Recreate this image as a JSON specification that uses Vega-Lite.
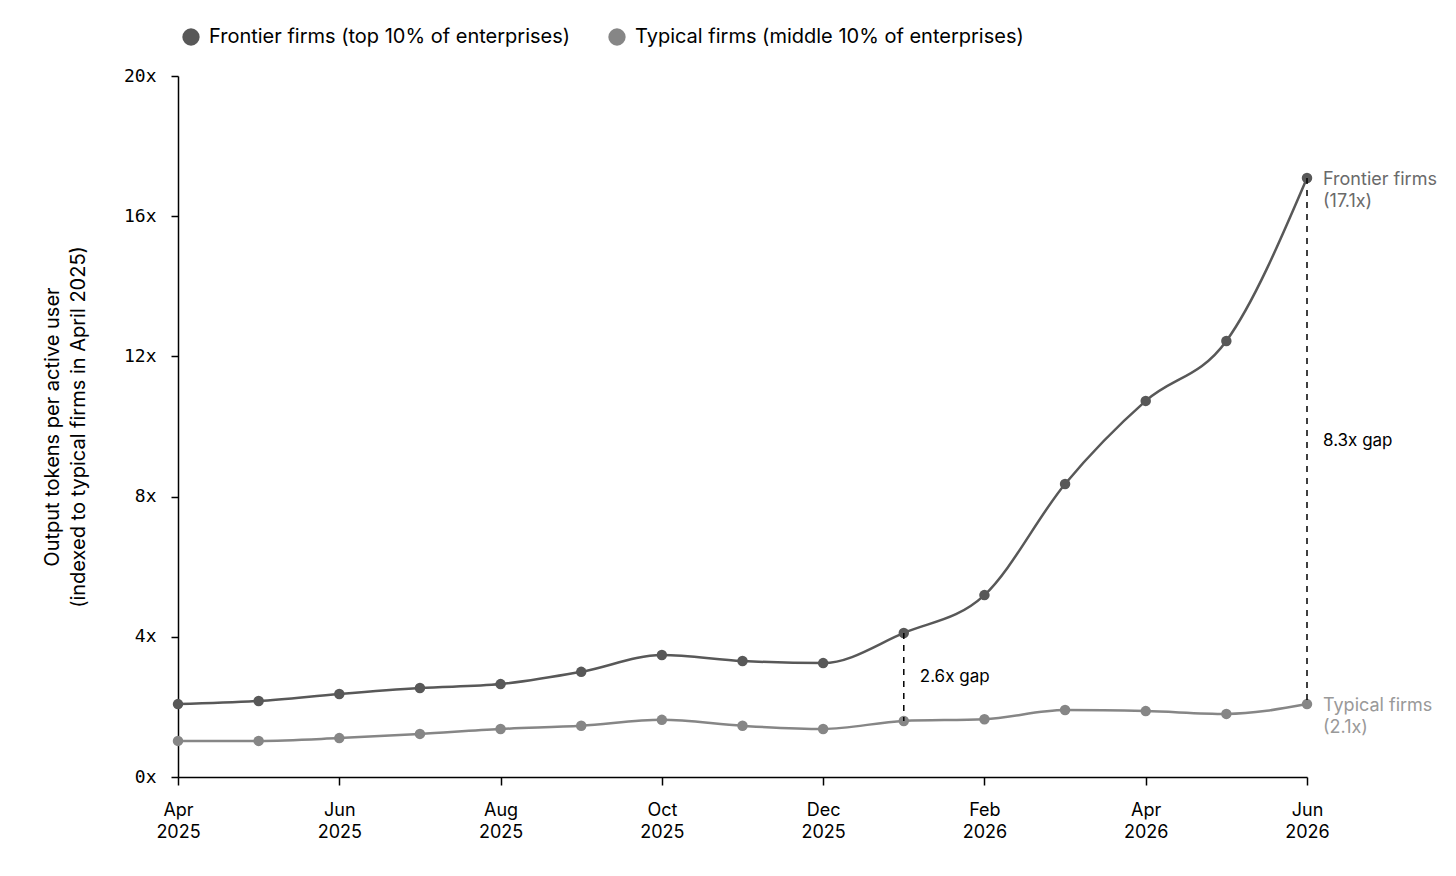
{
  "$schema": "https://vega.github.io/schema/vega-lite/v6.json",
  "background": "white",
  "width": 1129,
  "height": 701,
  "padding": {"left": 42, "top": 27, "right": 10, "bottom": 10},
  "datasets": {
    "series": [
      {"month": "Apr 2025", "series": "Frontier firms (top 10% of enterprises)", "value": 2.08},
      {"month": "May 2025", "series": "Frontier firms (top 10% of enterprises)", "value": 2.17},
      {"month": "Jun 2025", "series": "Frontier firms (top 10% of enterprises)", "value": 2.37},
      {"month": "Jul 2025", "series": "Frontier firms (top 10% of enterprises)", "value": 2.54},
      {"month": "Aug 2025", "series": "Frontier firms (top 10% of enterprises)", "value": 2.65},
      {"month": "Sep 2025", "series": "Frontier firms (top 10% of enterprises)", "value": 3.0},
      {"month": "Oct 2025", "series": "Frontier firms (top 10% of enterprises)", "value": 3.48},
      {"month": "Nov 2025", "series": "Frontier firms (top 10% of enterprises)", "value": 3.31},
      {"month": "Dec 2025", "series": "Frontier firms (top 10% of enterprises)", "value": 3.25},
      {"month": "Jan 2026", "series": "Frontier firms (top 10% of enterprises)", "value": 4.11},
      {"month": "Feb 2026", "series": "Frontier firms (top 10% of enterprises)", "value": 5.19},
      {"month": "Mar 2026", "series": "Frontier firms (top 10% of enterprises)", "value": 8.36},
      {"month": "Apr 2026", "series": "Frontier firms (top 10% of enterprises)", "value": 10.73},
      {"month": "May 2026", "series": "Frontier firms (top 10% of enterprises)", "value": 12.44},
      {"month": "Jun 2026", "series": "Frontier firms (top 10% of enterprises)", "value": 17.09},
      {"month": "Apr 2025", "series": "Typical firms (middle 10% of enterprises)", "value": 1.03},
      {"month": "May 2025", "series": "Typical firms (middle 10% of enterprises)", "value": 1.03},
      {"month": "Jun 2025", "series": "Typical firms (middle 10% of enterprises)", "value": 1.11},
      {"month": "Jul 2025", "series": "Typical firms (middle 10% of enterprises)", "value": 1.23},
      {"month": "Aug 2025", "series": "Typical firms (middle 10% of enterprises)", "value": 1.37},
      {"month": "Sep 2025", "series": "Typical firms (middle 10% of enterprises)", "value": 1.46},
      {"month": "Oct 2025", "series": "Typical firms (middle 10% of enterprises)", "value": 1.63},
      {"month": "Nov 2025", "series": "Typical firms (middle 10% of enterprises)", "value": 1.46},
      {"month": "Dec 2025", "series": "Typical firms (middle 10% of enterprises)", "value": 1.37},
      {"month": "Jan 2026", "series": "Typical firms (middle 10% of enterprises)", "value": 1.6},
      {"month": "Feb 2026", "series": "Typical firms (middle 10% of enterprises)", "value": 1.65},
      {"month": "Mar 2026", "series": "Typical firms (middle 10% of enterprises)", "value": 1.91},
      {"month": "Apr 2026", "series": "Typical firms (middle 10% of enterprises)", "value": 1.88},
      {"month": "May 2026", "series": "Typical firms (middle 10% of enterprises)", "value": 1.8},
      {"month": "Jun 2026", "series": "Typical firms (middle 10% of enterprises)", "value": 2.08}
    ],
    "gaps": [
      {"month": "Jan 2026", "top": 4.11, "bottom": 1.6, "mid": 2.855, "label": "2.6x gap"},
      {"month": "Jun 2026", "top": 17.09, "bottom": 2.08, "mid": 9.585, "label": "8.3x gap"}
    ],
    "ends": [
      {"month": "Jun 2026", "value": 17.09, "label": "Frontier firms\n(17.1x)", "tone": "frontier"},
      {"month": "Jun 2026", "value": 2.08, "label": "Typical firms\n(2.1x)", "tone": "typical"}
    ]
  },
  "encoding": {
    "x": {
      "field": "month",
      "type": "ordinal",
      "scale": {
        "type": "point",
        "padding": 0,
        "domain": ["Apr 2025", "May 2025", "Jun 2025", "Jul 2025", "Aug 2025", "Sep 2025", "Oct 2025", "Nov 2025", "Dec 2025", "Jan 2026", "Feb 2026", "Mar 2026", "Apr 2026", "May 2026", "Jun 2026"]
      },
      "axis": {
        "title": null,
        "values": ["Apr 2025", "Jun 2025", "Aug 2025", "Oct 2025", "Dec 2025", "Feb 2026", "Apr 2026", "Jun 2026"],
        "labelExpr": "split(datum.label, ' ')",
        "labelAngle": 0,
        "labelFont": "Inter",
        "labelFontSize": 18,
        "labelLineHeight": 22,
        "labelColor": "black",
        "labelPadding": 16,
        "tickSize": 8,
        "tickColor": "black",
        "tickWidth": 1.5,
        "domainColor": "black",
        "domainWidth": 1.5,
        "grid": false
      }
    }
  },
  "layer": [
    {
      "data": {"name": "series"},
      "mark": {"type": "line", "interpolate": "monotone", "strokeWidth": 2.5},
      "encoding": {
        "y": {
          "field": "value",
          "type": "quantitative",
          "scale": {"domain": [0, 20], "nice": false},
          "axis": {
            "title": ["Output tokens per active user", "(indexed to typical firms in April 2025)"],
            "titleFont": "Inter",
            "titleFontSize": 20,
            "titleFontWeight": "normal",
            "titleColor": "black",
            "titleLineHeight": 26,
            "titlePadding": 35,
            "values": [0, 4, 8, 12, 16, 20],
            "labelExpr": "datum.value + 'x'",
            "labelFont": "DejaVu Sans Mono",
            "labelFontSize": 18,
            "labelColor": "black",
            "labelPadding": 15,
            "tickSize": 7,
            "tickColor": "black",
            "tickWidth": 1.5,
            "domainColor": "black",
            "domainWidth": 1.5,
            "grid": false
          }
        },
        "color": {
          "field": "series",
          "type": "nominal",
          "scale": {
            "domain": ["Frontier firms (top 10% of enterprises)", "Typical firms (middle 10% of enterprises)"],
            "range": ["#585858", "#868686"]
          }
        }
      }
    },
    {
      "data": {"name": "series"},
      "mark": {"type": "point", "filled": true, "size": 110, "opacity": 1},
      "encoding": {
        "y": {"field": "value", "type": "quantitative"},
        "color": {
          "field": "series",
          "type": "nominal",
          "legend": {
            "title": null,
            "orient": "none",
            "direction": "horizontal",
            "legendX": 3,
            "legendY": -49,
            "symbolType": "circle",
            "symbolSize": 300,
            "symbolOpacity": 1,
            "symbolStrokeWidth": 0,
            "labelFont": "Inter",
            "labelFontSize": 20,
            "labelColor": "black",
            "labelLimit": 0,
            "labelOffset": 8,
            "columnPadding": 36,
            "encode": {
              "symbols": {"update": {"fill": {"scale": "color", "field": "value"}, "opacity": {"value": 1}}}
            }
          }
        }
      }
    },
    {
      "data": {"name": "gaps"},
      "mark": {"type": "rule", "color": "black", "strokeWidth": 1.5, "strokeDash": [6, 6]},
      "encoding": {
        "y": {"field": "top", "type": "quantitative"},
        "y2": {"field": "bottom"}
      }
    },
    {
      "data": {"name": "gaps"},
      "mark": {"type": "text", "align": "left", "baseline": "middle", "dx": 16, "font": "Inter", "fontSize": 17, "color": "black"},
      "encoding": {
        "y": {"field": "mid", "type": "quantitative"},
        "text": {"field": "label"}
      }
    },
    {
      "data": {"name": "ends"},
      "transform": [{"filter": "datum.tone === 'frontier'"}],
      "mark": {"type": "text", "align": "left", "baseline": "top", "dx": 16, "dy": -7, "font": "Inter", "fontSize": 18, "lineHeight": 22, "lineBreak": "\n", "color": "#6a6a6a"},
      "encoding": {
        "y": {"field": "value", "type": "quantitative"},
        "text": {"field": "label"}
      }
    },
    {
      "data": {"name": "ends"},
      "transform": [{"filter": "datum.tone === 'typical'"}],
      "mark": {"type": "text", "align": "left", "baseline": "top", "dx": 16, "dy": -7, "font": "Inter", "fontSize": 18, "lineHeight": 22, "lineBreak": "\n", "color": "#999999"},
      "encoding": {
        "y": {"field": "value", "type": "quantitative"},
        "text": {"field": "label"}
      }
    }
  ],
  "config": {"view": {"stroke": null}}
}
